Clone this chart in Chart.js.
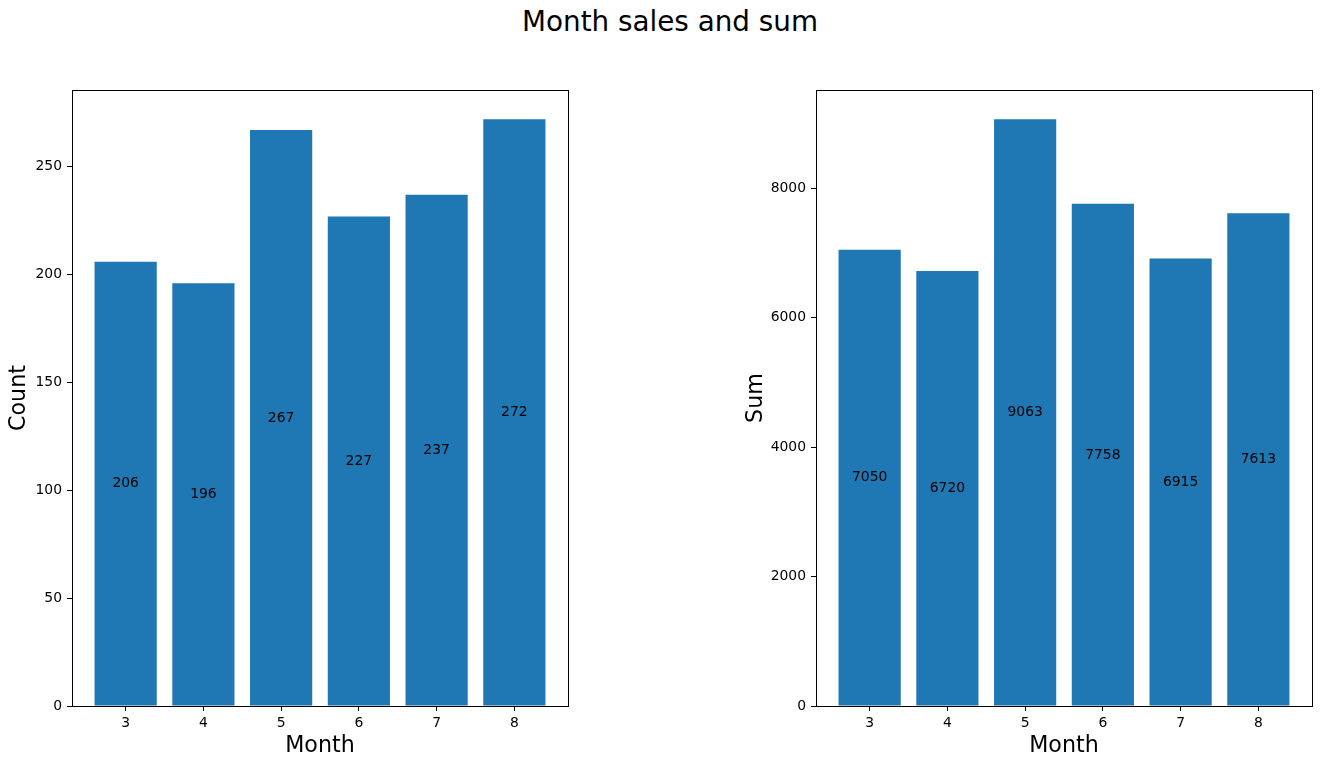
<!DOCTYPE html>
<html lang="en">
<head>
  <title>Month sales and sum</title>
  <script src="https://cdn.jsdelivr.net/npm/chart.js"></script>
  <style>
    body { margin: 0; background: #fff; font-family: "DejaVu Sans", sans-serif; }
    .wrap { position: relative; width: 1321px; height: 765px; overflow: hidden; }
    .title { position: absolute; left: 0; top: 6px; width: 1340px; text-align: center;
             font-size: 27.8px; line-height: 32px; color: #000; }
    canvas { position: absolute; top: 0; }
  </style>
</head>
<body>
  <div class="wrap">
    <div class="title">Month sales and sum</div>
    <canvas id="countChart" width="660" height="765" style="left:0px;width:660px;height:765px"></canvas>
    <canvas id="sumChart" width="661" height="765" style="left:660px;width:661px;height:765px"></canvas>
  </div>

  <script>
    // data
    const months = [3, 4, 5, 6, 7, 8];
    const counts = [206, 196, 267, 227, 237, 272];
    const sums = [7050, 6720, 9063, 7758, 6915, 7613];
    const countTicks = [0, 50, 100, 150, 200, 250];
    const sumTicks = [0, 2000, 4000, 6000, 8000];

    const barColor = '#1f77b4';
    const tickFont = { family: 'DejaVu Sans', size: 13.9 };
    const labelFont = { family: 'DejaVu Sans', size: 22.2 };

    // box around plot + value labels in middle of bars
    const boxAndLabels = {
      id: 'boxAndLabels',
      afterDatasetsDraw(chart) {
        const ctx = chart.ctx;
        const a = chart.chartArea;
        const ys = chart.scales.y;
        const meta = chart.getDatasetMeta(0);
        const vals = chart.data.datasets[0].data;
        ctx.save();
        ctx.fillStyle = '#000';
        ctx.font = '13.9px "DejaVu Sans"';
        ctx.textAlign = 'center';
        ctx.textBaseline = 'middle';
        meta.data.forEach((bar, i) => {
          ctx.fillText(String(vals[i].y), bar.x, ys.getPixelForValue(vals[i].y / 2));
        });
        ctx.strokeStyle = '#000';
        ctx.lineWidth = 1;
        ctx.strokeRect(Math.round(a.left) + 0.5, Math.round(a.top) + 0.5,
                       Math.round(a.right - a.left), Math.round(a.bottom - a.top));
        ctx.restore();
      }
    };

    function makeChart(id, values, yTitle, yMax, yTicks, padLeft, padRight, yWidth) {
      const ctx = document.getElementById(id).getContext('2d');
      return new Chart(ctx, {
        type: 'bar',
        data: {
          datasets: [{
            data: months.map((m, i) => ({ x: m, y: values[i] })),
            backgroundColor: barColor,
            borderColor: barColor,
            borderWidth: 0,
            inflateAmount: 0,
            barPercentage: 1,
            categoryPercentage: 0.8
          }]
        },
        options: {
          responsive: false,
          animation: false,
          devicePixelRatio: 1,
          layout: { padding: { top: 90, left: padLeft, right: padRight, bottom: 0 } },
          plugins: { legend: { display: false }, tooltip: { enabled: false } },
          scales: {
            x: {
              type: 'linear',
              offset: false,
              min: 2.31,
              max: 8.69,
              afterBuildTicks: s => { s.ticks = months.map(v => ({ value: v })); },
              afterFit: s => { s.height = 59; },
              grid: { display: true, offset: false, drawOnChartArea: false, tickLength: 5, color: '#000' },
              border: { display: true, color: '#000', width: 1 },
              ticks: { color: '#000', font: tickFont, padding: 4, maxRotation: 0, callback: v => String(v) },
              title: { display: true, text: 'Month', color: '#000', font: labelFont, padding: { top: 0, bottom: 5 } }
            },
            y: {
              min: 0,
              max: yMax,
              afterBuildTicks: s => { s.ticks = yTicks.map(v => ({ value: v })); },
              afterFit: s => { s.width = yWidth; },
              grid: { display: true, drawOnChartArea: false, tickLength: 5, color: '#000' },
              border: { display: true, color: '#000', width: 1 },
              ticks: { color: '#000', font: tickFont, padding: 5, callback: v => String(v) },
              title: { display: true, text: yTitle, color: '#000', font: labelFont, padding: { top: 6, bottom: 0 } }
            }
          }
        },
        plugins: [boxAndLabels]
      });
    }

    makeChart('countChart', counts, 'Count', 285.6, countTicks, 0, 92, 72);
    makeChart('sumChart', sums, 'Sum', 9516.15, sumTicks, 77, 9, 79);
  </script>
</body>
</html>
